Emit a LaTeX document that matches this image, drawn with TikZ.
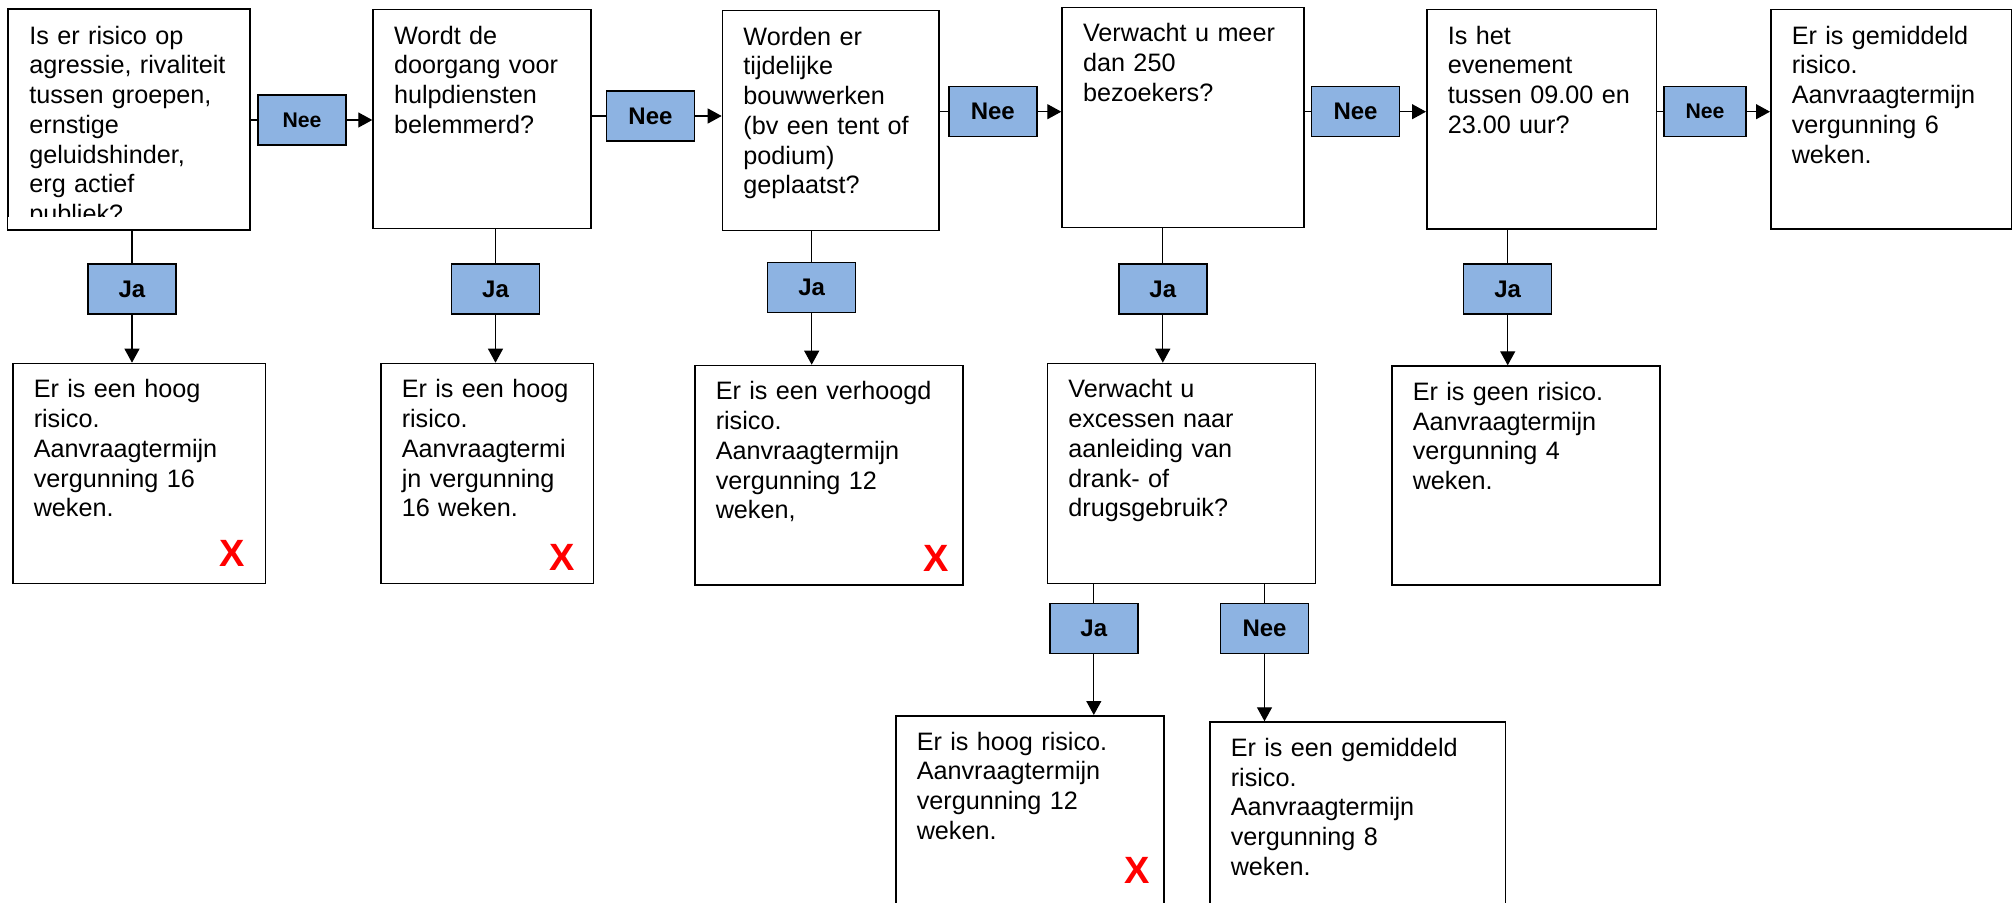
\documentclass[tikz,border=0pt]{standalone}
\usepackage{fontspec}
\setmainfont{Liberation Sans}
\usetikzlibrary{arrows.meta}

\definecolor{lblblue}{RGB}{141,179,226}

\tikzset{
  box/.style 2 args={draw, line width=0.75pt, anchor=north west, align=left,
    inner xsep=10.5pt, inner ysep=0pt, text width=#1, text height=17.25pt, text depth=#2,
    font=\fontsize{12.6pt}{14.85pt}\selectfont},
  lbl/.style={draw, line width=0.75pt, fill=lblblue, minimum width=44pt, minimum height=25pt,
    inner sep=0pt, font=\bfseries\fontsize{12pt}{14pt}\selectfont},
  lblsmall/.style={font=\bfseries\fontsize{10.6pt}{12pt}\selectfont},
  redx/.style={anchor=base, text=red, inner sep=0pt, font=\bfseries\fontsize{19pt}{20pt}\selectfont},
  link/.style={line width=0.6pt},
  arr/.style={line width=0.6pt, -{Triangle[length=7pt,width=7.5pt]}}
}

\begin{document}
\begin{tikzpicture}[x=0.5pt,y=-0.5pt]
	\clip (0,0) rectangle (2013,903);
	
	\begin{scope}
		\clip (7.6,9) rectangle (248.7,216.7);
		\node[box={99.55pt}{92.4pt}] (q1) at (7.6,9) {Is er risico op\\agressie, rivaliteit\\tussen groepen,\\ernstige\\geluidshinder,\\erg actief\\publiek?};
	\end{scope}
	\draw[line width=0.75pt] (q1.north west) rectangle (q1.south east);
	
	\node[box={87.85pt}{92.25pt}] (q2) at (372.3,9) {Wordt de\\doorgang voor\\hulpdiensten\\belemmerd?};
	\node[box={87.35pt}{92.75pt}] (q3) at (721.7,10) {Worden er\\tijdelijke\\bouwwerken\\(bv een tent of\\podium)\\geplaatst?};
	\node[box={99.85pt}{92.75pt}] (q4) at (1061.3,6.7) {Verwacht u meer\\dan 250\\bezoekers?};
	\node[box={93.85pt}{92.4pt}] (q5) at (1426,9) {Is het\\evenement\\tussen 09.00 en\\23.00 uur?};
	\node[box={99.25pt}{92.4pt}] (gemiddeld) at (1770,9) {Er is gemiddeld\\risico.\\Aanvraagtermijn\\vergunning 6\\weken.};
	
	\node[box={105.35pt}{92.75pt}] (hoog1) at (12,362.7) {Er is een hoog\\risico.\\Aanvraagtermijn\\vergunning 16\\weken.};
	\node[box={85.45pt}{92.75pt}] (hoog2) at (380,362.7) {Er is een hoog\\risico.\\Aanvraagtermi\\jn vergunning\\16 weken.};
	\node[box={113pt}{92.4pt}] (verhoogd) at (694,364.7) {Er is een verhoogd\\risico.\\Aanvraagtermijn\\vergunning 12\\weken,};
	\node[box={113pt}{92.75pt}] (q6) at (1046.6,362.7) {Verwacht u\\excessen naar\\aanleiding van\\drank- of\\drugsgebruik?};
	\node[box={113pt}{92.25pt}] (geen) at (1391,365.3) {Er is geen risico.\\Aanvraagtermijn\\vergunning 4\\weken.};
	
	\node[box={113pt}{92.75pt}] (hoog3) at (895,715) {Er is hoog risico.\\Aanvraagtermijn\\vergunning 12\\weken.};
	\node[box={126.8pt}{92.75pt}] (gemiddeld2) at (1209,721.3) {Er is een gemiddeld\\risico.\\Aanvraagtermijn\\vergunning 8\\weken.};
	
	\node[redx] (x1) at (231.7,566.7) {X};
	\node[redx] (x2) at (561.8,570.7) {X};
	\node[redx] (x3) at (936.5,571.7) {X};
	\node[redx] (x4) at (1136.8,883.3) {X};
	
	\node[lbl, lblsmall] (nee1) at (302,120) {Nee};
	\node[lbl] (nee2) at (650.5,116) {Nee};
	\node[lbl] (nee3) at (992.8,111.7) {Nee};
	\node[lbl] (nee4) at (1355.5,111.7) {Nee};
	\node[lbl, lblsmall, minimum width=41pt] (nee5) at (1705,111.7) {Nee};
	
	\node[lbl] (ja1) at (132,289) {Ja};
	\node[lbl] (ja2) at (495.5,289) {Ja};
	\node[lbl] (ja3) at (811.7,287.3) {Ja};
	\node[lbl] (ja4) at (1162.8,289) {Ja};
	\node[lbl] (ja5) at (1507.7,289) {Ja};
	\node[lbl] (ja6) at (1093.8,628.3) {Ja};
	\node[lbl] (nee6) at (1264.5,628.3) {Nee};
	
	\draw[link] (q1.east |- nee1) -- (nee1);
	\draw[arr] (nee1) -- (nee1 -| q2.west);
	\draw[link] (q2.east |- nee2) -- (nee2);
	\draw[arr] (nee2) -- (nee2 -| q3.west);
	\draw[link] (q3.east |- nee3) -- (nee3);
	\draw[arr] (nee3) -- (nee3 -| q4.west);
	\draw[link] (q4.east |- nee4) -- (nee4);
	\draw[arr] (nee4) -- (nee4 -| q5.west);
	\draw[link] (q5.east |- nee5) -- (nee5);
	\draw[arr] (nee5) -- (nee5 -| gemiddeld.west);
	
	\draw[link] (q1.south -| ja1) -- (ja1);
	\draw[arr] (ja1) -- (ja1 |- hoog1.north);
	\draw[link] (q2.south -| ja2) -- (ja2);
	\draw[arr] (ja2) -- (ja2 |- hoog2.north);
	\draw[link] (q3.south -| ja3) -- (ja3);
	\draw[arr] (ja3) -- (ja3 |- verhoogd.north);
	\draw[link] (q4.south -| ja4) -- (ja4);
	\draw[arr] (ja4) -- (ja4 |- q6.north);
	\draw[link] (q5.south -| ja5) -- (ja5);
	\draw[arr] (ja5) -- (ja5 |- geen.north);
	
	\draw[link] (q6.south -| ja6) -- (ja6);
	\draw[arr] (ja6) -- (ja6 |- hoog3.north);
	\draw[link] (q6.south -| nee6) -- (nee6);
	\draw[arr] (nee6) -- (nee6 |- gemiddeld2.north);
\end{tikzpicture}
\end{document}
